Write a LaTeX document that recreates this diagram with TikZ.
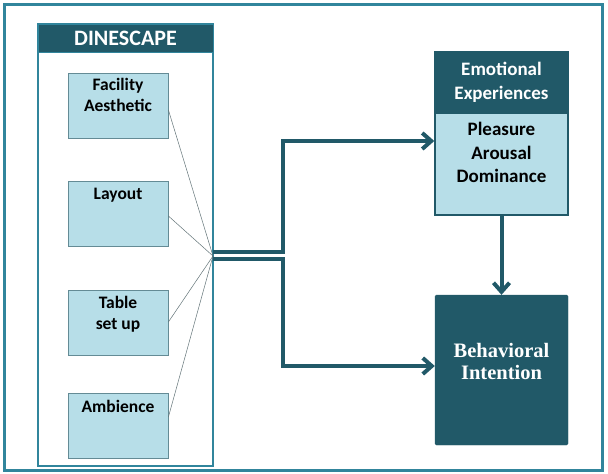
\documentclass[tikz,border=0pt]{standalone}
\usepackage{fontspec}
\setmainfont{Carlito}
\newfontfamily\serifbf{Liberation Serif}
\usetikzlibrary{arrows.meta}
\definecolor{darkteal}{HTML}{215968}
\definecolor{midteal}{HTML}{31859C}
\definecolor{lightblue}{HTML}{B7DEE8}
\tikzset{
  frame/.style={draw=midteal, line width=3pt},
  panel/.style={draw=midteal, line width=2pt, fill=white},
  hdr/.style={fill=darkteal, draw=midteal, line width=1pt, text=white, font=\fontsize{22}{24}\selectfont\bfseries},
  sbox/.style={draw=darkteal!70, line width=0.8pt, fill=lightblue, minimum width=100pt, minimum height=65pt, inner sep=0pt},
  lbl/.style={anchor=north, align=center, font=\fontsize{17.5}{21}\selectfont\bfseries, inner sep=0pt},
  thin/.style={draw=gray!70!darkteal, line width=0.5pt},
  flow/.style={draw=darkteal, line width=4pt},
  arr/.style={flow, -{Straight Barb[length=9pt, width=16pt, line width=4pt]}},
}
\begin{document}
\begin{tikzpicture}[x=1pt, y=-1pt]
\useasboundingbox (0,0) rectangle (608,474);
\draw[frame] (4,4) rectangle (602,470);
% DINESCAPE panel
\draw[panel] (38,24) rectangle (213,466);
\node[hdr, minimum width=175pt, minimum height=28pt, inner sep=0pt] (din) at (125.5,38) {DINESCAPE};
% small boxes
\node[sbox, label={[lbl, yshift=-5pt]north:Facility\\Aesthetic}] (fac) at (118,106) {};
\node[sbox, label={[lbl, yshift=-7pt]north:Layout}] (lay) at (118,213.5) {};
\node[sbox, label={[lbl, yshift=-6pt]north:Table\\set up}] (tab) at (118,323) {};
\node[sbox, label={[lbl, yshift=-7pt]north:Ambience}] (amb) at (118,426) {};
% junction
\coordinate (j) at (213,256);
\draw[thin] (fac.east |- 0,110) -- (j);
\draw[thin] (lay.east |- 0,216) -- (j);
\draw[thin] (tab.east |- 0,322) -- (j);
\draw[thin] (amb.east |- 0,417) -- (j);
% emotional box
\node[fill=lightblue, draw=darkteal, line width=1.5pt, minimum width=133pt, minimum height=163pt, inner sep=0pt,
  label={[lbl, font=\fontsize{19}{23.5}\selectfont\bfseries, yshift=-71pt]north:Pleasure\\Arousal\\Dominance}] (emo) at (501.5,133.5) {};
\node[fill=darkteal, draw=darkteal, line width=1.5pt, minimum width=133pt, minimum height=61pt, inner sep=0pt, anchor=north,
  text=white, align=center, font=\fontsize{19}{24}\selectfont\bfseries] (emoh) at (emo.north) {Emotional\\Experiences};
% behavioral box
\node[fill=darkteal, draw=darkteal, rounded corners=1.5pt, minimum width=133pt, minimum height=150pt, inner sep=0pt,
  label={[text=white, align=center, font=\serifbf\fontsize{20.5}{22}\selectfont\bfseries, yshift=9pt]center:Behavioral\\Intention}] (beh) at (501.5,370) {};
% flows
\draw[arr] (j |- 0,252) -| (283,141) -- (emo.west |- 0,141);
\draw[arr] (j |- 0,259) -| (283,366) -- (beh.west |- 0,366);
\draw[arr] (emo.south) -- (beh.north);
\end{tikzpicture}
\end{document}
